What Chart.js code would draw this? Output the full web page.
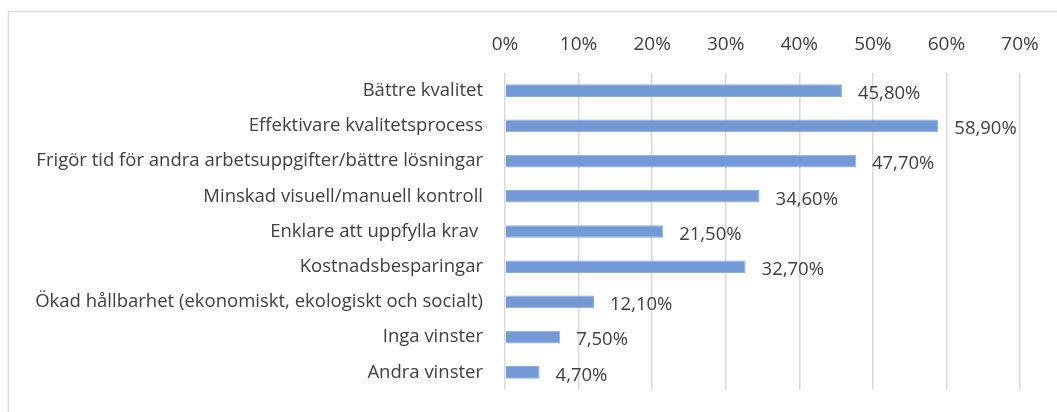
<!DOCTYPE html>
<html lang="sv">
<head>
<meta charset="utf-8">
<title>Vinster</title>
<script src="https://cdn.jsdelivr.net/npm/chart.js@4.4.1/dist/chart.umd.min.js"></script>
<style>
    html, body { margin: 0; padding: 0; background: #ffffff; }
    #wrap { position: relative; width: 1057px; height: 412px; }
</style>
</head>
<body>
<div id="wrap"><canvas id="mainChart" width="1057" height="412"></canvas></div>
<script>
// Chart data
const categories = [
    'Bättre kvalitet',
    'Effektivare kvalitetsprocess',
    'Frigör tid för andra arbetsuppgifter/bättre lösningar',
    'Minskad visuell/manuell kontroll',
    'Enklare att uppfylla krav ',
    'Kostnadsbesparingar',
    'Ökad hållbarhet (ekonomiskt, ekologiskt och socialt)',
    'Inga vinster',
    'Andra vinster'
];
const values = [45.8, 58.9, 47.7, 34.6, 21.5, 32.7, 12.1, 7.5, 4.7];
const tickValues = [0, 10, 20, 30, 40, 50, 60, 70];

const textColor = '#404040';
const fontFamily = '"Open Sans", "Noto Sans", sans-serif';

// Thin frame around the chart, like the Excel chart area
const framePlugin = {
    id: 'frame',
    beforeDraw(chart) {
        const ctx = chart.ctx;
        ctx.save();
        ctx.strokeStyle = '#d9d9d9';
        ctx.lineWidth = 1.5;
        ctx.strokeRect(8.5, 11.5, 1100, 450);
        ctx.restore();
    }
};

// Value labels to the right of each bar
const valueLabelPlugin = {
    id: 'valueLabels',
    afterDatasetsDraw(chart) {
        const ctx = chart.ctx;
        const meta = chart.getDatasetMeta(0);
        ctx.save();
        ctx.font = '18.5px ' + fontFamily;
        ctx.fillStyle = textColor;
        ctx.textAlign = 'left';
        ctx.textBaseline = 'middle';
        meta.data.forEach((bar, i) => {
            const txt = values[i].toFixed(2).replace('.', ',') + '%';
            ctx.fillText(txt, bar.x + 16, bar.y + 3);
        });
        ctx.restore();
    }
};

document.addEventListener('DOMContentLoaded', function() {
    const ctx = document.getElementById('mainChart').getContext('2d');
    window.mainChart = new Chart(ctx, {
        type: 'bar',
        data: {
            labels: categories,
            datasets: [{
                data: values,
                backgroundColor: '#7399d6',
                borderColor: '#8eaee0',
                borderWidth: 1,
                categoryPercentage: 0.36,
                barPercentage: 1.0
            }]
        },
        options: {
            indexAxis: 'y',
            responsive: false,
            animation: false,
            layout: { padding: { left: 0, top: 0, right: 37, bottom: 22 } },
            plugins: {
                legend: { display: false },
                tooltip: { enabled: false }
            },
            scales: {
                x: {
                    position: 'top',
                    min: 0,
                    max: 70,
                    afterBuildTicks(scale) {
                        scale.ticks = tickValues.map(v => ({ value: v }));
                    },
                    afterFit(scale) {
                        scale.height = 73;
                        scale.paddingLeft = 0;
                        scale.paddingRight = 0;
                    },
                    grid: { color: '#d9d9d9', lineWidth: 1.5, drawTicks: false },
                    border: { display: false },
                    ticks: {
                        padding: 17,
                        color: textColor,
                        font: { family: fontFamily, size: 19 },
                        callback: v => v + '%'
                    }
                },
                y: {
                    afterFit(scale) {
                        scale.width = 505;
                        scale.paddingTop = 0;
                        scale.paddingBottom = 0;
                    },
                    grid: { display: false, drawTicks: false },
                    border: { display: false },
                    ticks: {
                        padding: 22,
                        color: textColor,
                        font: { family: fontFamily, size: 18.5 }
                    }
                }
            }
        },
        plugins: [framePlugin, valueLabelPlugin]
    });
});
</script>
</body>
</html>
